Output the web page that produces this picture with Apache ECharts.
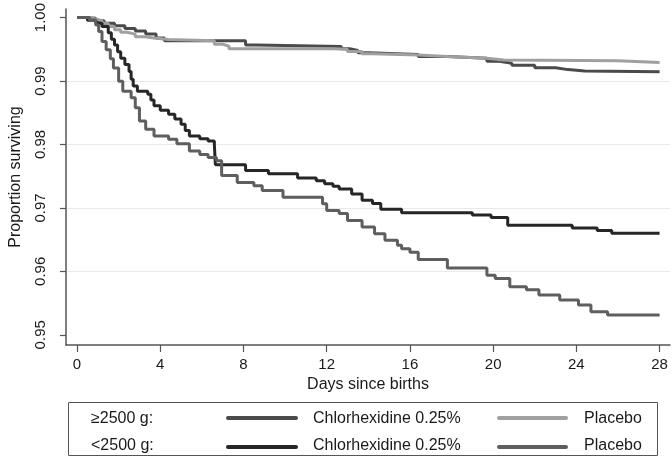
<!DOCTYPE html>
<html><head><meta charset="utf-8">
<script src="https://cdn.jsdelivr.net/npm/echarts@6/dist/echarts.min.js"></script>
<style>html,body{margin:0;padding:0;background:#fff}#c{width:672px;height:458px}</style>
</head><body><div id="c"></div>
<script>
// Tick labels
const xTicks = [0, 4, 8, 12, 16, 20, 24, 28];
const yTicks = [0.95, 0.96, 0.97, 0.98, 0.99, 1.00];

// Legend texts
const groupLabels = ['≥2500 g:', '<2500 g:'];
const armLabels = ['Chlorhexidine 0.25%', 'Placebo'];

// ≥2500 g, Chlorhexidine 0.25%
const heavyChlorDays = [0,0.4,0.9,1.3,1.8,2.3,2.8,3.3,3.8,4.2,8.1,8.6,12.7,13.1,13.5,14.0,16.4,17.8,19.7,20.3,20.9,22.0,23.0,23.6,24.4,28];
const heavyChlorSurv = [1,0.9999,0.9995,0.9991,0.9987,0.9983,0.9979,0.9974,0.9968,0.99635,0.9957,0.99545,0.9951,0.9948,0.99445,0.9942,0.99385,0.9936,0.9931,0.9928,0.99248,0.9921,0.9918,0.9916,0.99145,0.99145];

// ≥2500 g, Placebo
const heavyPlacDays = [0,0.5,0.9,1.2,1.5,1.8,2.1,2.4,2.8,3.2,3.7,4.4,6.6,7.0,7.3,12.3,13.0,13.7,14.2,16.4,17.8,19.7,20.5,26.0,28];
const heavyPlacSurv = [1,0.9998,0.9995,0.9991,0.9986,0.9981,0.9977,0.9974,0.9970,0.9968,0.99655,0.99635,0.9958,0.9955,0.9951,0.9950,0.99465,0.9943,0.99412,0.99385,0.9936,0.9933,0.9932,0.99292,0.99292];

// <2500 g, Chlorhexidine 0.25%
const lightChlorDays = [0,0.5,0.9,1.2,1.5,1.65,1.8,1.95,2.1,2.3,2.5,2.6,2.7,2.9,3.4,3.55,3.7,4.0,4.4,4.7,5.0,5.2,5.4,5.9,6.3,6.6,6.65,8.1,9.2,10.6,11.5,11.9,12.3,12.6,13.2,13.7,14.2,14.6,15.6,19.0,19.9,20.7,23.8,25.0,25.7,28];
const lightChlorSurv = [1,0.9996,0.9991,0.9986,0.9976,0.9966,0.9957,0.9946,0.9936,0.9926,0.9915,0.9903,0.9892,0.9884,0.9879,0.9870,0.9861,0.9854,0.98475,0.9840,0.9832,0.9822,0.98135,0.9809,0.98056,0.9800,0.9768,0.9759,0.9754,0.9747,0.9743,0.9738,0.9734,0.9730,0.9722,0.9712,0.9707,0.9698,0.96925,0.9689,0.9685,0.96725,0.96685,0.96644,0.9660,0.9660];

// <2500 g, Placebo
const lightPlacDays = [0,0.6,0.9,1.04,1.2,1.4,1.6,1.75,2.0,2.2,2.6,2.8,3.0,3.3,3.7,4.4,4.8,5.4,5.9,6.3,6.7,6.95,7.7,8.5,8.9,9.9,11.8,12.0,12.6,13.0,13.7,14.3,14.8,15.4,15.6,16.0,16.4,17.8,19.7,20.1,20.8,21.6,22.2,23.2,24.1,24.7,25.5,28];
const lightPlacSurv = [1,0.9996,0.99885,0.9978,0.99624,0.99494,0.9935,0.99206,0.98997,0.9884,0.98735,0.98578,0.9837,0.9824,0.98135,0.98083,0.9801,0.97899,0.9784,0.97794,0.97742,0.9751,0.9740,0.97351,0.97273,0.97168,0.97064,0.96959,0.9691,0.96802,0.96698,0.96593,0.96489,0.9641,0.96358,0.9630,0.96186,0.96054,0.9594,0.95888,0.95756,0.9571,0.95627,0.95548,0.9547,0.95365,0.95313,0.95313];

const colors = ['#4a4a4a', '#a0a0a0', '#262626', '#5e5e5e'];
const FONT = 'Liberation Sans, Arial, sans-serif';
const TXT = '#1a1a1a';
const AX = '#555';

function pairs(d, v) { return d.map((x, i) => [x, v[i]]); }
const curves = [
  ['≥2500 Chlorhexidine', heavyChlorDays, heavyChlorSurv],
  ['≥2500 Placebo', heavyPlacDays, heavyPlacSurv],
  ['<2500 Chlorhexidine', lightChlorDays, lightChlorSurv],
  ['<2500 Placebo', lightPlacDays, lightPlacSurv]
];

const chart = echarts.init(document.getElementById('c'), null, {renderer: 'canvas'});

const rowY = [418, 447], rowTY = [419, 446];
const graphics = [{
  type: 'rect', shape: {x: 68.5, y: 402.5, width: 589, height: 53},
  style: {fill: 'none', stroke: AX, lineWidth: 1}, silent: true
}];
for (let r = 0; r < 2; r++) {
  graphics.push({type: 'text', x: 91, y: rowTY[r], style: {text: groupLabels[r], font: '16px ' + FONT, fill: TXT, verticalAlign: 'middle'}});
  graphics.push({type: 'line', shape: {x1: 228, y1: rowY[r], x2: 296, y2: rowY[r]}, style: {stroke: colors[r * 2], lineWidth: 4, lineCap: 'round'}});
  graphics.push({type: 'text', x: 313, y: rowTY[r], style: {text: armLabels[0], font: '16px ' + FONT, fill: TXT, verticalAlign: 'middle'}});
  graphics.push({type: 'line', shape: {x1: 499, y1: rowY[r], x2: 566, y2: rowY[r]}, style: {stroke: colors[r * 2 + 1], lineWidth: 4, lineCap: 'round'}});
  graphics.push({type: 'text', x: 584, y: rowTY[r], style: {text: armLabels[1], font: '16px ' + FONT, fill: TXT, verticalAlign: 'middle'}});
}

chart.setOption({
  animation: false,
  backgroundColor: '#fff',
  grid: {left: 57, right: 2, top: 7, bottom: 113, containLabel: false},
  xAxis: {
    type: 'value', min: -0.53, max: 28.5,
    name: 'Days since births', nameLocation: 'middle', nameGap: 27,
    nameTextStyle: {fontFamily: FONT, fontSize: 16, color: TXT},
    axisLine: {show: true, onZero: false, lineStyle: {color: AX, width: 1.5}},
    axisTick: {show: true, length: 7, customValues: xTicks, lineStyle: {color: AX, width: 1.2}},
    axisLabel: {customValues: xTicks, margin: 12, fontFamily: FONT, fontSize: 15, color: TXT},
    splitLine: {show: false}
  },
  yAxis: {
    type: 'value', min: 0.94839, max: 1.00136,
    name: 'Proportion surviving', nameLocation: 'middle', nameGap: 42,
    nameTextStyle: {fontFamily: FONT, fontSize: 16, color: TXT},
    axisLine: {show: true, onZero: false, lineStyle: {color: AX, width: 1.5}},
    axisTick: {show: true, length: 6, customValues: yTicks, lineStyle: {color: AX, width: 1.2}},
    axisLabel: {customValues: yTicks, rotate: 90, margin: 18, fontFamily: FONT, fontSize: 15, color: TXT,
      formatter: v => v.toFixed(2)},
    splitLine: {show: true, showMinLine: false, showMaxLine: false, lineStyle: {color: '#e9e9e9', width: 1}}
  },
  series: curves.map((c, i) => ({
    name: c[0], type: 'line', step: 'end', showSymbol: false, symbol: 'none',
    data: pairs(c[1], c[2]),
    lineStyle: {color: colors[i], width: 3},
    itemStyle: {color: colors[i]},
    z: 2 + i
  })),
  graphic: graphics
});
</script></body></html>
